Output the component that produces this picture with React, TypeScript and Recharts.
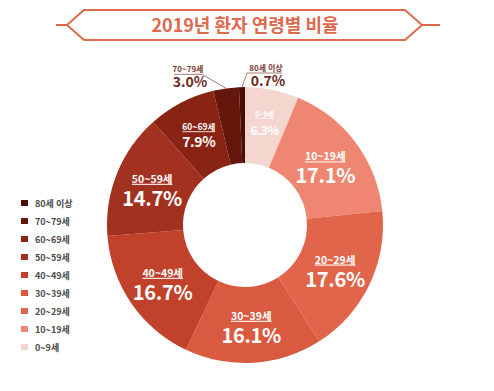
import { PieChart, Pie, Cell, Legend, Customized } from 'recharts';

const TITLE = '2019년 환자 연령별 비율';
const AGE_GROUPS = ['0~9세', '10~19세', '20~29세', '30~39세', '40~49세', '50~59세', '60~69세', '70~79세', '80세 이상'];
const SHARES = [6.3, 17.1, 17.6, 16.1, 16.7, 14.7, 7.9, 3.0, 0.7];
const COLORS = ['#f4d6cf', '#ee8671', '#e1654b', '#d95a40', '#c2412b', '#a3311f', '#892314', '#66170c', '#470e08'];

const FONT = '"Noto Sans CJK KR", "Noto Sans", sans-serif';
const ACCENT = '#de694d';
const RAD = Math.PI / 180;

const data = AGE_GROUPS.map((name, i) => ({ name, value: SHARES[i] }));

function TitleBanner() {
  return (
    <g>
      <line x1={56} y1={25} x2={67} y2={25} stroke={ACCENT} strokeWidth={2} />
      <line x1={422} y1={25} x2={440} y2={25} stroke={ACCENT} strokeWidth={2} />
      <polygon
        points="84,10 405,10 422,25 405,40 84,40 67,25"
        fill="#fff"
        stroke={ACCENT}
        strokeWidth={2}
      />
      <text
        x={245}
        y={32}
        textAnchor="middle"
        fontFamily={FONT}
        fontWeight={700}
        fontSize={18}
        fill={ACCENT}
      >
        {TITLE}
      </text>
    </g>
  );
}

// 슬라이스 크기에 따라 라벨 크기 조절
function labelTier(value: number) {
  if (value >= 10) return { nameSize: 10.5, pctSize: 20, nameDy: -5, pctDy: 18 };
  if (value >= 7) return { nameSize: 8.5, pctSize: 14, nameDy: -6, pctDy: 11 };
  return { nameSize: 7, pctSize: 12, nameDy: -10, pctDy: 8 };
}

function renderLabel(props: any) {
  const { cx, cy, midAngle, innerRadius, outerRadius, index, value, name } = props;
  const cos = Math.cos(-midAngle * RAD);
  const sin = Math.sin(-midAngle * RAD);
  const pct = `${Number(value).toFixed(1)}%`;

  // 작은 조각(70대, 80세 이상)은 바깥에 지시선으로 표시
  if (value < 5) {
    const px = cx + outerRadius * cos;
    const py = cy + outerRadius * sin;
    const left = cos < -0.08;
    const kx = left ? px - 24 : px + 5;
    const ky = py - 14;
    const ex = left ? px - 52 : px + 40;
    const tx = left ? px - 38 : px + 24;
    return (
      <g key={`lbl-${index}`}>
        <polyline
          points={`${px},${py} ${kx},${ky} ${ex},${ky}`}
          fill="none"
          stroke="#8c5a50"
          strokeWidth={0.8}
        />
        <text x={tx} y={ky - 2} textAnchor="middle" fontFamily={FONT} fontWeight={700} fontSize={8} fill="#7a3e33">
          {name}
        </text>
        <text x={tx + 2} y={ky + 13} textAnchor="middle" fontFamily={FONT} fontWeight={700} fontSize={14} fill="#6a2a22">
          {pct}
        </text>
      </g>
    );
  }

  const r = (innerRadius + outerRadius) / 2;
  const x = cx + r * cos;
  const y = cy + r * sin;
  const t = labelTier(value);
  return (
    <g key={`lbl-${index}`}>
      <text
        x={x}
        y={y + t.nameDy}
        textAnchor="middle"
        fontFamily={FONT}
        fontWeight={700}
        fontSize={t.nameSize}
        fill="#fff"
        style={{ textDecoration: 'underline' }}
      >
        {name}
      </text>
      <text
        x={x}
        y={y + t.pctDy}
        textAnchor="middle"
        fontFamily={FONT}
        fontWeight={700}
        fontSize={t.pctSize}
        fill="#fff"
        letterSpacing={-0.3}
      >
        {pct}
      </text>
    </g>
  );
}

function AgeLegend() {
  const rows = AGE_GROUPS.map((name, i) => ({ name, color: COLORS[i] })).reverse();
  return (
    <div style={{ fontFamily: FONT }}>
      {rows.map((row) => (
        <div key={row.name} style={{ display: 'flex', alignItems: 'center', height: 18 }}>
          <span style={{ display: 'inline-block', width: 7, height: 6, background: row.color, marginRight: 7 }} />
          <span style={{ fontSize: 9, fontWeight: 700, color: '#4a4a4a' }}>{row.name}</span>
        </div>
      ))}
    </div>
  );
}

export default function App() {
  return (
    <div style={{ width: 494, height: 391, background: '#fff', position: 'relative' }}>
      <style>{'body{margin:0}'}</style>
      <PieChart width={494} height={391} margin={{ top: 0, right: 0, bottom: 0, left: 0 }}>
        <Customized component={<TitleBanner />} />
        <Pie
          data={data}
          dataKey="value"
          nameKey="name"
          cx={245}
          cy={225}
          innerRadius={62}
          outerRadius={138}
          startAngle={90}
          endAngle={-270}
          stroke="none"
          label={renderLabel}
          labelLine={false}
          isAnimationActive={false}
        >
          {data.map((d, i) => (
            <Cell key={d.name} fill={COLORS[i]} />
          ))}
        </Pie>
        <Legend
          layout="vertical"
          content={<AgeLegend />}
          wrapperStyle={{ position: 'absolute', left: 21, top: 194, width: 90, bottom: 'auto' }}
        />
      </PieChart>
    </div>
  );
}
